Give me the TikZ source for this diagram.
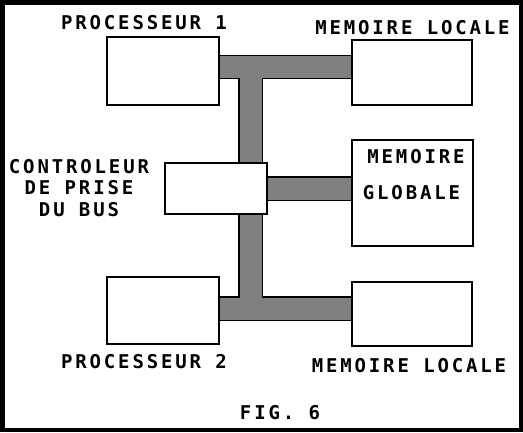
\documentclass[tikz,border=0pt]{standalone}
\usepackage{fontspec}
\newfontfamily\figfont[LetterSpace=15]{DejaVu Sans Mono Bold}
\usepackage{tikz}
\usetikzlibrary{backgrounds}
\tikzset{unit/.style={draw, line width=1.2pt, fill=white, inner sep=0pt},
         lbl/.style={font=\figfont\fontsize{19}{21.5}\selectfont, inner sep=0pt, align=center},
         bus/.style={line width=1.2pt, double=black!50, double distance=22pt, line cap=butt}}

\begin{document}
\begin{tikzpicture}[x=1pt, y=-1pt]
\useasboundingbox (0,0) rectangle (523,432);
\draw[line width=4.5pt] (2.25,2.25) rectangle (520.75,429.75);

\node[unit, minimum width=112pt, minimum height=68pt] (p1) at (163,71) {};
\node[unit, minimum width=120pt, minimum height=65pt] (m1) at (412,72.5) {};
\node[unit, minimum width=121pt, minimum height=106pt] (mg) at (412.5,193) {};
\node[unit, minimum width=102pt, minimum height=51pt] (ctrl) at (216,188.5) {};
\node[unit, minimum width=112pt, minimum height=67pt] (p2) at (163,310.5) {};
\node[unit, minimum width=120pt, minimum height=64pt] (m2) at (412,314) {};

\coordinate (b1) at (250.5,67);
\coordinate (b2) at (250.5,308.5);

\begin{pgfonlayer}{background}
\draw[bus] (p1.east |- b1) -- (m1.west |- b1)
           (b1) -- (b2)
           (p2.east |- b2) -- (m2.west |- b2)
           (ctrl.east) -- (ctrl.east -| mg.west);
\end{pgfonlayer}

\node[lbl] (tp1) at (144,23) {PROCESSEUR 1};
\node[lbl] (tm1) at (412.5,28) {MEMOIRE LOCALE};
\node[lbl] (tmg1) at (416,157) {MEMOIRE};
\node[lbl] (tmg2) at (411.5,193) {GLOBALE};
\node[lbl] (tctrl) at (79,188) {CONTROLEUR\\DE PRISE\\DU BUS};
\node[lbl] (tp2) at (144,362) {PROCESSEUR 2};
\node[lbl] (tm2) at (409,366) {MEMOIRE LOCALE};
\node[lbl] (tfig) at (280,413) {FIG. 6};
\end{tikzpicture}
\end{document}
